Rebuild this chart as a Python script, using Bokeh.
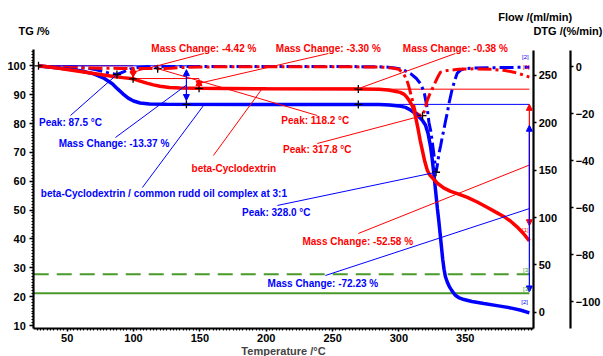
import numpy as np
from bokeh.plotting import figure
from bokeh.models import Range1d, LinearAxis, FixedTicker, Label, Arrow, NormalHead
from bokeh.embed import file_html
from bokeh.resources import INLINE

# ---------------- values ----------------
temp_ticks = [50, 100, 150, 200, 250, 300, 350]
tg_ticks = [10, 20, 30, 40, 50, 60, 70, 80, 90, 100]
flow_ticks = [0, 50, 100, 150, 200, 250]
dtg_ticks = [0, -20, -40, -60, -80, -100]

# TG of beta-Cyclodextrin (red, solid)
bcd_T = [28.4, 35, 45, 55, 65, 75, 85, 92, 99.7, 105, 110, 115, 120, 127, 135, 149.4, 200,
         269.4, 285, 292, 297, 301, 304, 306, 308, 310, 311.5, 312.6, 314.4, 316, 317.7, 319.5,
         321.4, 323, 325.2, 329, 333.7, 339, 345, 351.6, 359, 366.7, 373, 379, 384, 389, 394, 398.3]
bcd_tg = [100, 99.7, 99.1, 98.4, 97.7, 97.0, 96.3, 95.9, 95.5, 94.7, 94.0, 93.4, 92.9, 92.5, 92.3,
          92.2, 92.05, 91.95, 91.85, 91.6, 91.2, 90.8, 90.1, 89.1, 87.8, 86.2, 84.3, 82.2, 78.2,
          74.2, 70.6, 66.8, 63.8, 62.3, 61.2, 59.3, 57.7, 56.5, 55.5, 54.4, 52.8, 50.9, 49.3,
          47.8, 46.2, 44.2, 41.8, 39.32]

# TG of the complex (blue, solid)
cpx_T = [28.4, 40, 50, 60, 70, 78, 84, 88, 92, 96, 100, 105, 112, 125, 200, 269.4, 285, 293, 300,
         305, 309, 312, 315, 318, 320, 322, 324, 325, 326, 327, 328, 329, 330, 331, 332, 333,
         334, 335, 336.5, 338, 340, 342.5, 345, 349, 355, 364, 375, 384, 392, 398.3]
cpx_tg = [100, 99.4, 98.9, 98.3, 97.2, 95.6, 93.8, 92.0, 90.3, 88.8, 87.8, 87.1, 86.75, 86.65,
          86.63, 86.63, 86.55, 86.4, 86.1, 85.6, 84.6, 83.6, 82.4, 80.9, 79.5, 76.5, 71.5, 68,
          64, 59.5, 55, 50.5, 46.5, 42, 37.5, 33, 29.5, 27, 25, 23.5, 22, 20.5, 19.7, 19, 18.3,
          17.6, 16.8, 16.1, 15.3, 14.4]

# DTG of beta-Cyclodextrin (red, dash-dot)
bcd_dtg_T = [28.4, 35, 45, 55, 65, 75, 90, 105, 118.2, 128, 138, 150, 170, 250, 285, 295, 300,
             303, 305.5, 307.3, 309.9, 312.4, 315, 317.8, 319.5, 321.3, 323.8, 326.3, 328.8,
             331.3, 336.5, 345, 356, 370, 380, 386.6, 392, 398.3]
bcd_dtg = [0, -0.1, -0.3, -0.5, -0.65, -0.75, -0.8, -0.85, -0.9, -0.7, -0.4, -0.2, -0.1, -0.1,
           -0.2, -0.6, -1.2, -2.8, -5, -8.1, -13.7, -19.4, -20.5, -20.9, -18.5, -14.5, -11,
           -8.1, -5, -2.4, -1.7, -1.2, -1.0, -1.2, -1.7, -2.4, -3.3, -4.5]

# DTG of the complex (blue, dash-dot)
cpx_dtg_T = [28.4, 50, 60, 66, 72, 77, 82, 87.5, 92, 97.5, 104, 110, 150, 250, 285, 292, 297,
             301, 305, 309, 313, 316.4, 319, 321.4, 322.6, 324, 325, 326.5, 328, 329.2, 330.2,
             331.5, 332.7, 334, 335.2, 336.5, 338, 340, 342, 344, 346.5, 349, 356, 370, 385, 398.3]
cpx_dtg = [0, -0.2, -0.4, -0.8, -1.4, -2.1, -2.9, -3.4, -2.4, -1.0, -0.4, -0.1, 0, 0, -0.1,
           -0.3, -0.6, -1.0, -1.9, -3.1, -5.0, -7.4, -10.9, -18, -23.7, -27.5, -31.5, -38, -45,
           -41, -37, -33.5, -30, -26.5, -23, -19.5, -15, -10, -6, -2.8, -1.5, -1, -0.7, -0.5,
           -0.4, -0.3]

# gas flows (green)
flow_T = [24.8, 398.3]
flow_purge = [40, 40]
flow_protective = [20, 20]

# evaluation results
bcd_peaks = [118.2, 317.8]
cpx_peaks = [87.5, 328.0]
bcd_step_T = [28.4, 99.7, 149.4, 269.4, 398.3]
bcd_mass_changes = [-4.42, -3.30, -0.38, -52.58]
cpx_step_T = [(28.4, 139.85), (269.4, 398.3)]
cpx_mass_changes = [-13.37, -72.23]

# ---------------- ranges (whole canvas is the frame) ----------------
X_LO, X_HI = -0.24, 454.17
TG_LO, TG_HI = -0.74, 122.63
FL_LO, FL_HI = -46.79, 329.2
D_LO, D_HI = -123.4, 28.09
# where the axes sit
T_AX_L, T_AX_FLOW, T_AX_DTG = 24.84, 401.6, 429.45
TG_AX_B, TG_AX_T = 8.96, 105.48
FL_AX_B, FL_AX_T = -17.2, 276.9
D_AX_B, D_AX_T = -111.5, 7.02

RED = "#ff0000"
BLUE = "#0000ff"
GREEN = "#4a9a2a"
FONT = "Liberation Sans"


def dtg_as_tg(v):
    return TG_LO + (float(v) - D_LO) * (TG_HI - TG_LO) / (D_HI - D_LO)


p = figure(width=603, height=356, x_range=Range1d(X_LO, X_HI), y_range=Range1d(TG_LO, TG_HI),
           output_backend="svg", toolbar_location=None, min_border=0,
           min_border_left=0, min_border_right=0, min_border_top=0, min_border_bottom=0)
p.outline_line_color = None
p.xgrid.visible = False
p.ygrid.visible = False
p.extra_y_ranges = {"flow": Range1d(FL_LO, FL_HI), "dtg": Range1d(D_LO, D_HI)}


def style_axis(ax, ticks, minor, loc, bounds):
    ax.ticker = FixedTicker(ticks=ticks, minor_ticks=minor)
    ax.fixed_location = loc
    ax.bounds = bounds
    ax.axis_line_width = 2.2
    ax.axis_line_color = "black"
    ax.major_tick_line_width = 1.5
    ax.major_tick_out = 4
    ax.major_tick_in = 0
    ax.minor_tick_out = 2
    ax.minor_tick_in = 0
    ax.minor_tick_line_width = 1.2
    ax.major_label_text_font = FONT
    ax.major_label_text_font_style = "bold"
    ax.major_label_text_font_size = "11px"
    ax.major_label_text_color = "black"
    ax.major_label_standoff = 2


xa = p.xaxis[0]
style_axis(xa, temp_ticks, list(np.arange(27.5, 401, 2.5)), TG_AX_B, (T_AX_L, T_AX_FLOW))
xa.major_tick_out = 3
xa.major_label_standoff = 2
xa.axis_label = "Temperature /°C"
xa.axis_label_text_font = FONT
xa.axis_label_text_font_style = "bold"
xa.axis_label_text_font_size = "11px"
xa.axis_label_standoff = 0

ya = p.yaxis[0]
style_axis(ya, tg_ticks, list(np.arange(10, 106, 1)), T_AX_L, (TG_AX_B, TG_AX_T))
ya.major_label_standoff = 4

flow_axis = LinearAxis(y_range_name="flow")
style_axis(flow_axis, flow_ticks, [], T_AX_FLOW, (FL_AX_B, FL_AX_T))
flow_axis.major_tick_out = 3
p.add_layout(flow_axis, "right")

dtg_axis = LinearAxis(y_range_name="dtg")
style_axis(dtg_axis, dtg_ticks, [], T_AX_DTG, (D_AX_B, D_AX_T))
dtg_axis.major_tick_out = 3
p.add_layout(dtg_axis, "right")

# ---------------- gas flows ----------------
p.line(flow_T, flow_purge, y_range_name="flow", line_color=GREEN, line_width=2, line_dash="15 8")
p.line(flow_T, flow_protective, y_range_name="flow", line_color=GREEN, line_width=2)


# ---------------- mass-change evaluations (thin lines + arrows) ----------------
def steps(step_pairs, changes, start_level):
    out = []
    lvl = start_level
    for (ta, tb), ch in zip(step_pairs, changes):
        out.append((ta, tb, lvl, lvl + ch))
        lvl = lvl + ch
    return out


bcd_steps = steps(list(zip(bcd_step_T[:-1], bcd_step_T[1:])), bcd_mass_changes, 100.0)
cpx_steps = steps(cpx_step_T, cpx_mass_changes, 100.0)

for st, col in [(s, RED) for s in bcd_steps] + [(s, BLUE) for s in cpx_steps]:
    ta, tb, la, lb = st
    p.line([ta, tb], [la, la], line_color=col, line_width=1)
    d = lb - la
    if abs(d) > 1:
        p.add_layout(Arrow(x_start=tb, y_start=la + 0.1 * d, x_end=tb, y_end=la + 0.9 * d,
                           line_color=col, line_width=1.2,
                           start=NormalHead(size=6, fill_color=col, line_color=col),
                           end=NormalHead(size=6, fill_color=col, line_color=col)))

# ---------------- curves ----------------
p.line(cpx_dtg_T, cpx_dtg, y_range_name="dtg", line_color=BLUE, line_width=3, line_dash="14 4 3 4")
p.line(bcd_dtg_T, bcd_dtg, y_range_name="dtg", line_color=RED, line_width=3, line_dash="14 4 3 4")
p.line(cpx_T, cpx_tg, line_color=BLUE, line_width=3.5)
p.line(bcd_T, bcd_tg, line_color=RED, line_width=3.5)


# ---------------- crosses ----------------
def on(Tarr, Yarr, t):
    return float(np.interp(t, Tarr, Yarr))


cross_x = [bcd_step_T[0], bcd_step_T[1], bcd_step_T[2], bcd_step_T[3], cpx_step_T[0][1], cpx_step_T[1][0]]
cross_y = [on(bcd_T, bcd_tg, t) for t in bcd_step_T[:4]] + \
          [on(cpx_T, cpx_tg, cpx_step_T[0][1]), on(cpx_T, cpx_tg, cpx_step_T[1][0])]
p.scatter(cross_x, cross_y, marker="cross", size=8, line_color="black", line_width=1.3)
pk_x = bcd_peaks + cpx_peaks
pk_y = [on(bcd_dtg_T, bcd_dtg, t) for t in bcd_peaks] + [on(cpx_dtg_T, cpx_dtg, t) for t in cpx_peaks]
p.scatter(pk_x, pk_y, y_range_name="dtg", marker="cross", size=8, line_color="black", line_width=1.3)


# ---------------- labels and leader lines ----------------
def label(text, x, y, color, align="center", size="10px", style="bold"):
    p.add_layout(Label(x=x, y=y, text=text, text_color=color, text_font=FONT, text_font_style=style,
                       text_font_size=size, text_align=align, text_baseline="middle"))


def leader(x0, y0, x1, y1, color):
    p.line([x0, x1], [y0, y1], line_color=color, line_width=1)


def mid(st):
    return st[1], 0.5 * (st[2] + st[3])


# red annotations
label("Mass Change: -4.42 %", 153.0, 106.1, RED)
leader(*mid(bcd_steps[0]), 153.0, 104.26, RED)
label("Mass Change: -3.30 %", 246.8, 106.1, RED)
leader(*mid(bcd_steps[1]), 246.8, 104.26, RED)
label("Mass Change: -0.38 %", 342.5, 106.1, RED)
leader(*mid(bcd_steps[2]), 342.5, 104.26, RED)
label("Peak: 118.2 °C", 237.0, 81.04, RED)
leader(bcd_peaks[0], dtg_as_tg(pk_y[0]), 238.5, 82.78, RED)
label("Peak: 317.8 °C", 238.5, 70.89, RED)
leader(bcd_peaks[1], dtg_as_tg(pk_y[1]), 238.5, 73.07, RED)
label("beta-Cyclodextrin", 175.6, 64.51, RED)
leader(196.9, on(bcd_T, bcd_tg, 196.9), 160.2, 68.91, RED)
label("Mass Change: -52.58 %", 269.0, 39.22, RED)
leader(*mid(bcd_steps[3]), 269.4, 41.88, RED)

# blue annotations
label("Peak: 87.5 °C", 52.5, 80.45, BLUE)
leader(cpx_peaks[0], dtg_as_tg(pk_y[2]), 52.5, 82.78, BLUE)
label("Mass Change: -13.37 %", 85.3, 73.07, BLUE)
leader(*mid(cpx_steps[0]), 86.4, 75.15, BLUE)
label("beta-Cyclodextrin / common rudd oil complex at 3:1", 122.9, 55.75, BLUE)
leader(153.4, on(cpx_T, cpx_tg, 153.4), 106.7, 57.82, BLUE)
label("Peak: 328.0 °C", 207.6, 49.27, BLUE)
leader(cpx_peaks[1], dtg_as_tg(pk_y[3]), 208.4, 51.6, BLUE)
label("Mass Change: -72.23 %", 242.7, 24.45, BLUE)
leader(*mid(cpx_steps[1]), 244.6, 27.33, BLUE)

# curve tags
label("[2]", 395.3, 102.9, BLUE, size="6px", style="normal")
label("[1]", 396.0, 99.6, RED, size="6px", style="normal")
label("[1]", 395.3, 43.2, RED, size="6px", style="normal")
label("[3]", 396.0, 29.3, GREEN, size="6px", style="normal")
label("[3]", 396.0, 22.7, GREEN, size="6px", style="normal")
label("[2]", 394.7, 18.1, BLUE, size="6px", style="normal")

# axis titles
label("TG /%", 13.3, 112.0, "black", align="left", size="11px")
label("Flow /(ml/min)", 374.9, 116.84, "black", align="left", size="11px")
label("DTG /(%/min)", 453.4, 111.9, "black", align="right", size="11px")

open("out.html", "w").write(file_html(p, INLINE))
